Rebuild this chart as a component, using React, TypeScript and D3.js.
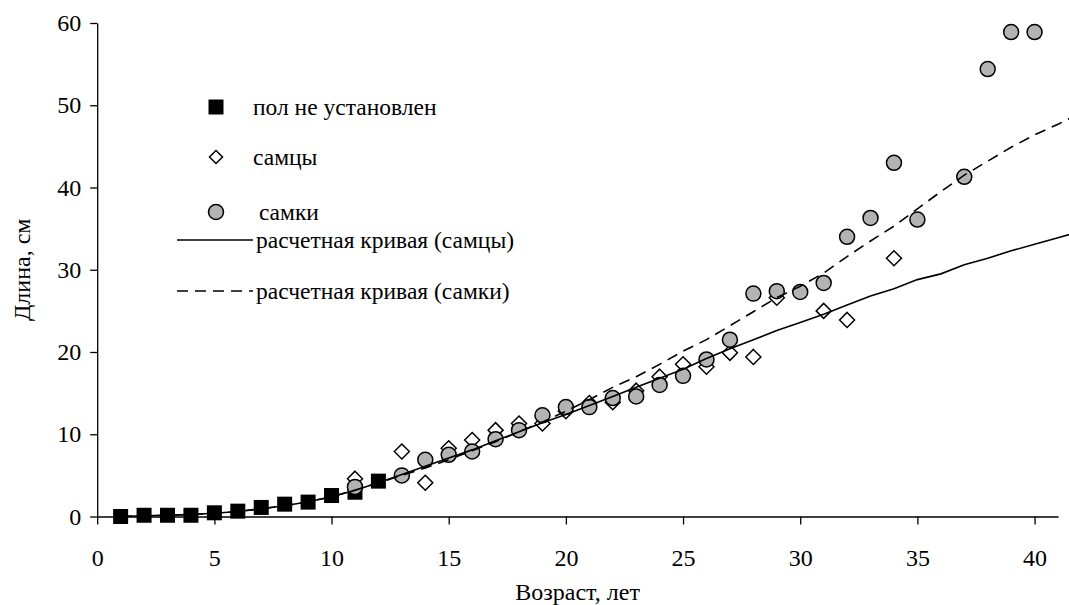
import * as d3 from "d3";
import React, { useEffect, useRef } from "react";

// пол не установлен
const unsexedAge = [1, 2, 3, 4, 5, 6, 7, 8, 9, 10, 11, 12];
const unsexedLen = [0.0, 0.15, 0.15, 0.15, 0.45, 0.65, 1.1, 1.5, 1.75, 2.55, 2.95, 4.3];

// самцы
const maleAge = [11, 13, 14, 15, 16, 17, 18, 19, 20, 21, 22, 23, 24, 25, 26, 27, 28, 29, 31, 32, 34];
const maleLen = [4.6, 7.9, 4.1, 8.3, 9.3, 10.5, 11.3, 11.3, 12.8, 13.8, 13.9, 15.3, 17.0, 18.5, 18.2, 19.9, 19.4, 26.6, 25.0, 23.9, 31.4];

// самки
const femaleAge = [11, 13, 14, 15, 16, 17, 18, 19, 20, 21, 22, 23, 24, 25, 26, 27, 28, 29, 30, 31, 32, 33, 34, 35, 37, 38, 39, 40];
const femaleLen = [3.6, 5.0, 6.9, 7.5, 7.9, 9.4, 10.5, 12.3, 13.3, 13.3, 14.4, 14.6, 16.0, 17.1, 19.1, 21.5, 27.1, 27.4, 27.3, 28.4, 34.0, 36.3, 43.0, 36.1, 41.3, 54.4, 58.9, 58.9];

// расчетные кривые
const fitAge = [1, 2, 3, 4, 5, 6, 7, 8, 9, 10, 11, 12, 13, 14, 15, 16, 17, 18, 19, 20, 21, 22, 23, 24, 25, 26, 27, 28, 29, 30, 31, 32, 33, 34, 35, 36, 37, 38, 39, 40, 41, 41.5];
const maleFit = [0.0, 0.1, 0.15, 0.25, 0.4, 0.6, 0.95, 1.3, 1.8, 2.4, 3.2, 4.1, 5.1, 6.1, 7.1, 8.1, 9.2, 10.3, 11.4, 12.4, 13.5, 14.6, 15.7, 16.8, 17.9, 19.2, 20.4, 21.5, 22.6, 23.6, 24.6, 25.7, 26.8, 27.7, 28.8, 29.5, 30.6, 31.4, 32.3, 33.1, 33.9, 34.3];
const femaleFit = [0.0, 0.1, 0.15, 0.25, 0.4, 0.6, 0.95, 1.3, 1.8, 2.4, 3.2, 4.1, 5.0, 5.9, 6.9, 8.0, 9.1, 10.3, 11.5, 12.8, 14.2, 15.7, 17.0, 18.5, 20.1, 21.5, 23.2, 24.9, 26.6, 28.0, 29.6, 31.6, 33.5, 35.3, 37.4, 39.5, 41.5, 43.2, 44.9, 46.4, 47.7, 48.4];

const xTicks = [0, 5, 10, 15, 20, 25, 30, 35, 40];
const yTicks = [0, 10, 20, 30, 40, 50, 60];

const legendLabels = ["пол не установлен", "самцы", " самки", "расчетная кривая (самцы)", "расчетная кривая (самки)"];

const FONT = "'Liberation Serif', 'Times New Roman', serif";
const GREY = "#b3b3b3";

function App() {
  const ref = useRef<SVGSVGElement | null>(null);
  const width = 1069;
  const height = 605;

  useEffect(() => {
    const svg = d3.select(ref.current);
    svg.selectAll("*").remove();

    const x = d3.scaleLinear().domain([0, 41]).range([97.2, 1058]);
    const y = d3.scaleLinear().domain([0, 60]).range([516.5, 23]);

    // axes
    const yAxis = svg
      .append("g")
      .attr("transform", `translate(${x(0)},0)`)
      .call(d3.axisLeft(y).tickValues(yTicks).tickSize(7).tickSizeOuter(0).tickPadding(9));
    const xAxis = svg
      .append("g")
      .attr("transform", `translate(0,${y(0)})`)
      .call(d3.axisBottom(x).tickValues(xTicks).tickSize(8).tickSizeOuter(0).tickPadding(24));

    [yAxis, xAxis].forEach((g) => {
      g.selectAll("path, line").attr("stroke", "#000").attr("stroke-width", 1.3);
      g.selectAll("text")
        .attr("fill", "#000")
        .style("font-family", FONT)
        .style("font-size", "24px");
    });

    // axis titles
    svg
      .append("text")
      .attr("transform", `translate(22,${(y(0) + y(60)) / 2}) rotate(-90)`)
      .attr("text-anchor", "middle")
      .attr("dominant-baseline", "central")
      .style("font-family", FONT)
      .style("font-size", "24px")
      .text("Длина, см");
    svg
      .append("text")
      .attr("x", (x(0) + x(41)) / 2)
      .attr("y", 600)
      .attr("text-anchor", "middle")
      .style("font-family", FONT)
      .style("font-size", "24px")
      .text("Возраст, лет");

    // markers
    const sq = 15;
    svg
      .append("g")
      .selectAll("rect")
      .data(unsexedAge)
      .enter()
      .append("rect")
      .attr("x", (d) => x(d) - sq / 2)
      .attr("y", (_, i) => y(unsexedLen[i]) - sq / 2)
      .attr("width", sq)
      .attr("height", sq)
      .attr("fill", "#000");

    const diamond = (cx: number, cy: number, r: number) =>
      `M${cx},${cy - r}L${cx + r},${cy}L${cx},${cy + r}L${cx - r},${cy}Z`;

    svg
      .append("g")
      .selectAll("path")
      .data(maleAge)
      .enter()
      .append("path")
      .attr("d", (d, i) => diamond(x(d), y(maleLen[i]), 7.5))
      .attr("fill", "#fff")
      .attr("stroke", "#000")
      .attr("stroke-width", 1.5);

    svg
      .append("g")
      .selectAll("circle")
      .data(femaleAge)
      .enter()
      .append("circle")
      .attr("cx", (d) => x(d))
      .attr("cy", (_, i) => y(femaleLen[i]))
      .attr("r", 7.5)
      .attr("fill", GREY)
      .attr("stroke", "#000")
      .attr("stroke-width", 1.5);

    // fitted curves
    const maleLine = d3
      .line<number>()
      .x((d) => x(d))
      .y((_, i) => y(maleFit[i]));
    const femaleLine = d3
      .line<number>()
      .x((d) => x(d))
      .y((_, i) => y(femaleFit[i]));

    svg
      .append("path")
      .attr("d", maleLine(fitAge))
      .attr("fill", "none")
      .attr("stroke", "#000")
      .attr("stroke-width", 1.6);
    svg
      .append("path")
      .attr("d", femaleLine(fitAge))
      .attr("fill", "none")
      .attr("stroke", "#000")
      .attr("stroke-width", 1.6)
      .attr("stroke-dasharray", "11,7");

    // legend
    const legend = svg.append("g");
    const rowY = [107, 157, 212, 240, 291];
    const textX = [253, 253, 253, 256, 256];

    legend
      .append("rect")
      .attr("x", 216 - sq / 2)
      .attr("y", rowY[0] - sq / 2)
      .attr("width", sq)
      .attr("height", sq)
      .attr("fill", "#000");
    legend
      .append("path")
      .attr("d", diamond(216, rowY[1], 6.5))
      .attr("fill", "#fff")
      .attr("stroke", "#000")
      .attr("stroke-width", 1.5);
    legend
      .append("circle")
      .attr("cx", 216)
      .attr("cy", rowY[2])
      .attr("r", 7.5)
      .attr("fill", GREY)
      .attr("stroke", "#000")
      .attr("stroke-width", 1.5);
    legend
      .append("line")
      .attr("x1", 177)
      .attr("x2", 253)
      .attr("y1", rowY[3])
      .attr("y2", rowY[3])
      .attr("stroke", "#000")
      .attr("stroke-width", 1.6);
    legend
      .append("line")
      .attr("x1", 177)
      .attr("x2", 253)
      .attr("y1", rowY[4])
      .attr("y2", rowY[4])
      .attr("stroke", "#000")
      .attr("stroke-width", 1.6)
      .attr("stroke-dasharray", "11,7");

    legend
      .selectAll("text")
      .data(legendLabels)
      .enter()
      .append("text")
      .attr("x", (_, i) => textX[i])
      .attr("y", (_, i) => rowY[i])
      .attr("dominant-baseline", "central")
      .style("font-family", FONT)
      .style("font-size", "23.5px")
      .style("white-space", "pre")
      .text((d) => d);
  }, []);

  return (
    <svg
      ref={ref}
      width={width}
      height={height}
      style={{ position: "absolute", left: 0, top: 0, background: "#fff" }}
    />
  );
}

export default App;
